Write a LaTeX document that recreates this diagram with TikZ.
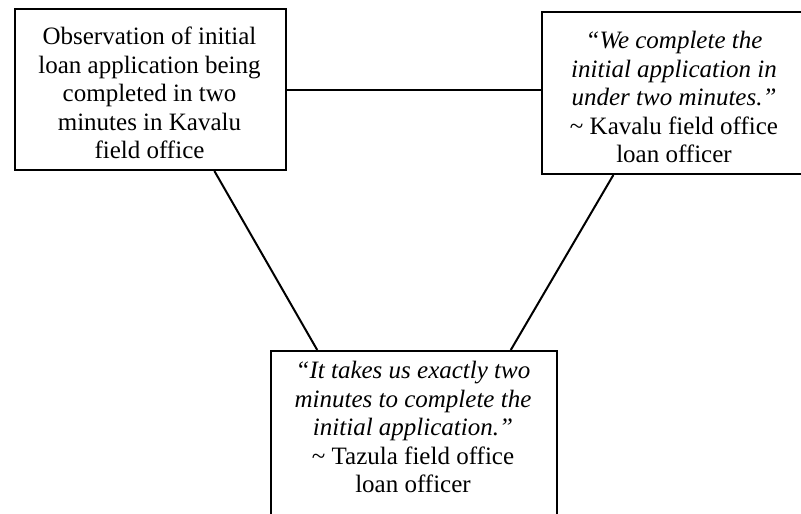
\documentclass[tikz,border=0pt]{standalone}
\usepackage{fontspec}
\setmainfont{Liberation Serif}
\usetikzlibrary{calc}
\begin{document}
\begin{tikzpicture}[x=1pt,y=-1pt,
  box/.style={draw, line width=2pt, rectangle, inner sep=0pt, anchor=north west},
  txt/.style={align=center, font=\fontsize{25}{28.5}\selectfont, inner sep=0pt},
  link/.style={line width=2pt}]
\useasboundingbox (0,0) rectangle (801,514);
\clip (0,0) rectangle (801,514);
% frames
\node[box, minimum width=271pt, minimum height=161pt] (obs) at (14,8) {};
\node[box, minimum width=266pt, minimum height=162pt] (kv) at (541,11) {};
\node[box, minimum width=286pt, minimum height=200pt] (tz) at (270,350) {};
% texts
\node[txt] (obsT) at (149.5,93) {Observation of initial\\loan application being\\completed in two\\minutes in Kavalu\\field office};
\node[txt] (kvT) at (674,97) {\textit{``We complete the}\\\textit{initial application in}\\\textit{under two minutes.''}\\\textasciitilde{} Kavalu field office\\loan officer};
\node[txt] (tzT) at (413,427) {\textit{``It takes us exactly two}\\\textit{minutes to complete the}\\\textit{initial application.''}\\\textasciitilde{} Tazula field office\\loan officer};
% connectors
\draw[link] (obs.east) -- (obs.east -| kv.west);
\draw[link] ($(obs.south west)!0.734!(obs.south east)$) -- ($(tz.north west)!0.164!(tz.north east)$);
\draw[link] ($(kv.south west)!0.27!(kv.south east)$) -- ($(tz.north west)!0.836!(tz.north east)$);
\end{tikzpicture}
\end{document}
